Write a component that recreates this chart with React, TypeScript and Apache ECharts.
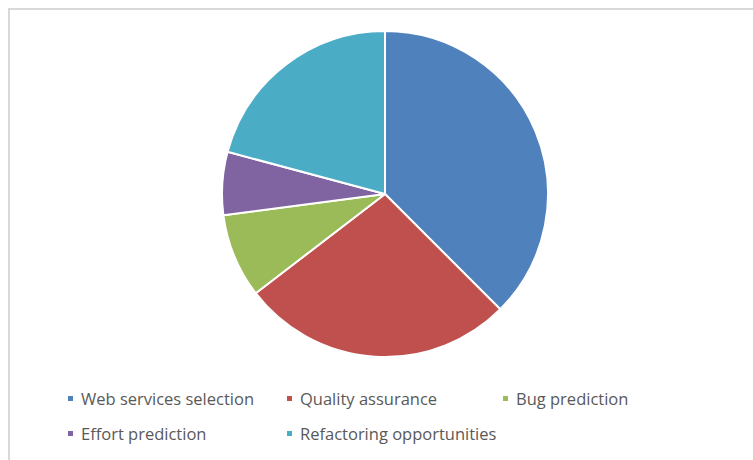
import React, { useEffect, useRef } from "react";
import * as echarts from "echarts";

const categories = [
  "Web services selection",
  "Quality assurance",
  "Bug prediction",
  "Effort prediction",
  "Refactoring opportunities",
];
const values = [18, 13, 4, 3, 10];
const colors = ["#4f81bd", "#c0504d", "#9bbb59", "#8064a2", "#4bacc6"];
const legendPos = [
  [66, 390],
  [285, 390],
  [501, 390],
  [66, 425],
  [285, 425],
];

export default function App() {
  const ref = useRef<HTMLDivElement>(null);
  useEffect(() => {
    if (!ref.current) return;
    const chart = echarts.init(ref.current, undefined, { renderer: "svg" });
    chart.setOption({
      animation: false,
      backgroundColor: "#ffffff",
      color: colors,
      graphic: [
        {
          type: "rect",
          shape: { x: 9, y: 9, width: 800, height: 500 },
          style: { fill: "none", stroke: "#d9d9d9", lineWidth: 2 },
          silent: true,
        },
      ],
      legend: categories.map((c, i) => ({
        data: [c],
        left: legendPos[i][0],
        top: legendPos[i][1],
        icon: "rect",
        itemWidth: 7,
        itemHeight: 7,
        itemGap: 0,
        padding: 0,
        selectedMode: false,
        textStyle: {
          color: "#595959",
          fontSize: 16.5,
          fontFamily: "Open Sans",
          padding: [0, 0, 0, 2],
        },
      })),
      series: [
        {
          type: "pie",
          center: [385, 194],
          radius: 163,
          startAngle: 90,
          clockwise: true,
          label: { show: false },
          labelLine: { show: false },
          itemStyle: { borderColor: "#ffffff", borderWidth: 2 },
          emphasis: { disabled: true },
          data: categories.map((c, i) => ({ name: c, value: values[i] })),
        },
      ],
    });
    return () => chart.dispose();
  }, []);
  return (
    <div
      ref={ref}
      style={{ position: "absolute", left: 0, top: 0, width: 753, height: 460 }}
    />
  );
}
